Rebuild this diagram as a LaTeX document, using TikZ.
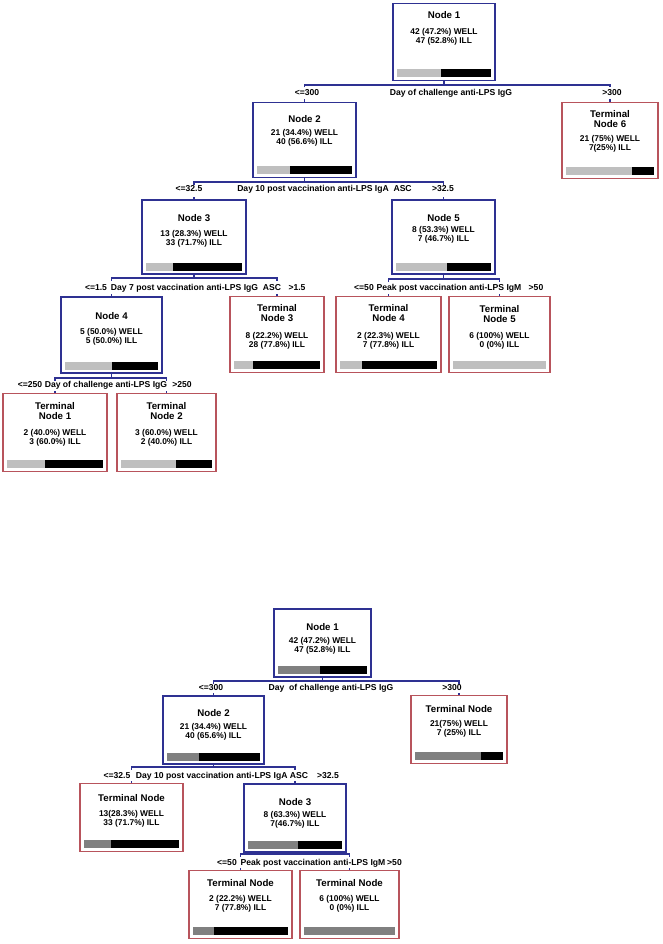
\documentclass[tikz,border=0pt]{standalone}
\usepackage{fontspec}
\setmainfont{Liberation Sans}
\usetikzlibrary{calc}

\definecolor{splitblue}{RGB}{46,49,146}
\definecolor{leafred}{RGB}{184,84,92}

\tikzset{
  innerbox/.style={draw=splitblue,line width=1.5pt,inner sep=0pt,anchor=north},
  leafbox/.style={draw=leafred,line width=1.1pt,inner sep=0pt,anchor=north},
  conn/.style={draw=splitblue,line width=1.2pt},
  boxtitle/.style={font=\bfseries\fontsize{9.7}{10}\selectfont,align=center,inner sep=0pt},
  boxdata/.style={font=\bfseries\fontsize{8.4}{9}\selectfont,align=center,inner sep=0pt},
  splitlabel/.style={font=\bfseries\fontsize{8.6}{9}\selectfont,inner sep=0pt},
  lightbar/.style={fill=black!25},
  darkbar/.style={fill=black!50}
}

\begin{document}
\begin{tikzpicture}[x=1pt,y=-1pt]

\fill[white] (0,0) rectangle (662,944);
\useasboundingbox (0,0) rectangle (662,944);

% boxes: name/style/centre x/top/width/height
\foreach \nm/\st/\cx/\ty/\w/\h in {
    n1/innerbox/444/3/102/77, n2/innerbox/304.5/102/103/75, t6/leafbox/610/102/96/76,
    n3/innerbox/194/199/104/74, n5/innerbox/443.5/199/103/74,
    n4/innerbox/111.5/296/101/76, t3/leafbox/277/296/94/76,
    t4/leafbox/388.5/296/105/76, t5/leafbox/499.5/296/101/76,
    t1/leafbox/55/393/104/78, t2/leafbox/166.5/393/99/78,
    b1/innerbox/322.5/608/97/68, b2/innerbox/213.5/695/101/68, bt1/leafbox/459/695/96/68,
    bt2/leafbox/131.5/783/103/68, b3/innerbox/295/783/102/68,
    bt3/leafbox/240.5/870/103/68, bt4/leafbox/349.5/870/99/68}{
    \node[\st,minimum width=\w pt,minimum height=\h pt] (\nm) at (\cx,\ty) {};
}

% titles and counts
\foreach \nm/\ty/\ttl/\dy/\dat in {
    n1/12/Node 1/34/42 (47.2\%) WELL\\47 (52.8\%) ILL,
    n2/17/Node 2/35.5/21 (34.4\%) WELL\\40 (56.6\%) ILL,
    t6/17/Terminal\\Node 6/42/21 (75\%) WELL\\7(25\%) ILL,
    n3/19/Node 3/40/13 (28.3\%) WELL\\33 (71.7\%) ILL,
    n5/19/Node 5/36/8 (53.3\%) WELL\\7 (46.7\%) ILL,
    n4/20/Node 4/41/5 (50.0\%) WELL\\5 (50.0\%) ILL,
    t3/17/Terminal\\Node 3/44.5/8 (22.2\%) WELL\\28 (77.8\%) ILL,
    t4/17.5/Terminal\\Node 4/45/2 (22.3\%) WELL\\7 (77.8\%) ILL,
    t5/18.5/Terminal\\Node 5/44.5/6 (100\%) WELL\\0 (0\%) ILL,
    t1/18/Terminal\\Node 1/45/2 (40.0\%) WELL\\3 (60.0\%) ILL,
    t2/18/Terminal\\Node 2/45/3 (60.0\%) WELL\\2 (40.0\%) ILL,
    b1/19/Node 1/38/42 (47.2\%) WELL\\47 (52.8\%) ILL,
    b2/18/Node 2/36.7/21 (34.4\%) WELL\\40 (65.6\%) ILL,
    bt1/14/Terminal Node/34/21(75\%) WELL\\7 (25\%) ILL,
    bt2/15/Terminal Node/36/13(28.3\%) WELL\\33 (71.7\%) ILL,
    b3/19/Node 3/37/8 (63.3\%) WELL\\7(46.7\%) ILL,
    bt3/13/Terminal Node/34/2 (22.2\%) WELL\\7 (77.8\%) ILL,
    bt4/13/Terminal Node/34/6 (100\%) WELL\\0 (0\%) ILL}{
    \node[boxtitle] (\nm-t) at ($(\nm.north)+(0,\ty)$) {\ttl};
    \node[boxdata] (\nm-d) at ($(\nm.north)+(0,\dy)$) {\dat};
}

% WELL / ILL bars
\foreach \nm/\f/\g in {
    n1/0.472/lightbar, n2/0.344/lightbar, t6/0.75/lightbar, n3/0.283/lightbar,
    n5/0.533/lightbar, n4/0.5/lightbar, t3/0.222/lightbar, t4/0.223/lightbar,
    t5/1/lightbar, t1/0.4/lightbar, t2/0.6/lightbar,
    b1/0.472/darkbar, b2/0.344/darkbar, bt1/0.75/darkbar, bt2/0.283/darkbar,
    b3/0.533/darkbar, bt3/0.222/darkbar, bt4/1/darkbar}{
    \coordinate (bl) at ($(\nm.south west)+(5,-4)$);
    \coordinate (br) at ($(\nm.south east)+(-5,-4)$);
    \fill[black] (bl) rectangle ($(br)+(0,-8)$);
    \fill[\g] (bl) rectangle ($(bl)!\f!(br)+(0,-8)$);
}

% splits
\foreach \p/\lc/\rc/\jy in {
    n1/n2/t6/85, n2/n3/n5/182, n3/n4/t3/278, n5/t4/t5/279, n4/t1/t2/378,
    b1/b2/bt1/681, b2/bt2/b3/767, b3/bt3/bt4/854}{
    \coordinate (j) at (0,\jy);
    \draw[conn] (\p.south) -- (\p.south |- j);
    \draw[conn] ($(\lc.north |- j)+(0,2.5)$) -- (\lc.north |- j) -- (\rc.north |- j) -- ++(0,2.5);
    \draw[conn] (\lc.north) -- ++(0,-2.5);
    \draw[conn] (\rc.north) -- ++(0,-2.5);
}

% split labels
\foreach \nm/\y/\lx/\ltxt/\mx/\mtxt/\rx/\rtxt in {
    n1/93/307/<=300/451/Day of challenge anti-LPS IgG/612/>300,
    n2/189/189/<=32.5/324.5/Day 10 post vaccination anti-LPS IgA\ \ ASC/443/>32.5,
    n3/288/96/<=1.5/196/Day 7 post vaccination anti-LPS IgG\ \ ASC/297/>1.5,
    n5/288/364/<=50/449/Peak post vaccination anti-LPS IgM/536/>50,
    n4/385/30/<=250/106/Day of challenge anti-LPS IgG/182/>250,
    b1/688/211/<=300/331/Day\ \ of challenge anti-LPS IgG/452/>300,
    b2/776/117/<=32.5/222/Day 10 post vaccination anti-LPS IgA ASC/328/>32.5,
    b3/863/227/<=50/313/Peak post vaccination anti-LPS IgM/394.5/>50}{
    \node[splitlabel] (\nm-l) at (\lx,\y) {\ltxt};
    \node[splitlabel] (\nm-m) at (\mx,\y) {\mtxt};
    \node[splitlabel] (\nm-r) at (\rx,\y) {\rtxt};
}

\end{tikzpicture}
\end{document}
